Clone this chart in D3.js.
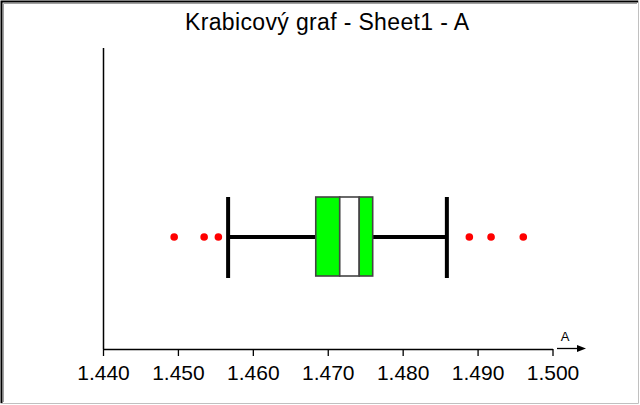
<!DOCTYPE html>
<html>
<head>
<meta charset="utf-8">
<script src="https://cdn.jsdelivr.net/npm/d3@7"></script>
<style>
  html, body { margin: 0; padding: 0; background: #fff; }
  svg { display: block; }
  text { font-family: "Liberation Sans", Arial, sans-serif; }
</style>
</head>
<body>
<svg id="chart" width="640" height="405"></svg>
<script>
// Box plot summary for column A
const title = "Krabicový graf - Sheet1 - A";
const axisLabel = "A";
const tickValues = [1.44, 1.45, 1.46, 1.47, 1.48, 1.49, 1.50];
const whiskers = [1.4567, 1.4859];          // lower / upper adjacent values
const boxEdges = [1.4684, 1.4716, 1.4742, 1.4760]; // Q1, median band low, median band high, Q3
const outliers = [1.4495, 1.4535, 1.4554, 1.4889, 1.4918, 1.4961];

const svg = d3.select("#chart");
const W = 640, H = 405;

// frame
svg.append("rect").attr("x", 0).attr("y", 0).attr("width", W).attr("height", H).attr("fill", "#fff");
svg.append("path").attr("d", `M1.5,${H - 2}V1.5H${W - 2}`).attr("fill", "none").attr("stroke", "#000").attr("stroke-width", 2);
svg.append("path").attr("d", `M3.5,${H - 3}V3.5H${W - 3}`).attr("fill", "none").attr("stroke", "#a0a0a0").attr("stroke-width", 1);
svg.append("path").attr("d", `M0.5,${H - 1.5}H${W - 1.5}V0.5`).attr("fill", "none").attr("stroke", "#c0c0c0").attr("stroke-width", 1);

const x = d3.scaleLinear().domain([1.44, 1.50]).range([103, 552.5]);
const axisY = 349;
const midY = 237;
const boxTop = 197, boxBot = 276;

// title
svg.append("text").attr("x", 327).attr("y", 30).attr("text-anchor", "middle")
  .attr("font-size", 23).attr("fill", "#000").attr("textLength", 284).text(title);

// vertical axis line
svg.append("line").attr("x1", 103.5).attr("x2", 103.5).attr("y1", 48).attr("y2", axisY)
  .attr("stroke", "#000").attr("stroke-width", 1.5);

// horizontal axis
const axis = d3.axisBottom(x).tickValues(tickValues).tickFormat(d3.format(".3f"))
  .tickSize(7).tickSizeOuter(0).tickPadding(4);
const gx = svg.append("g").attr("transform", `translate(0,${axisY})`).call(axis);
gx.select(".domain").attr("stroke", "#000").attr("stroke-width", 1.5);
gx.selectAll(".tick line").attr("stroke", "#000").attr("stroke-width", 1.3);
gx.selectAll(".tick text").attr("font-size", 21).attr("fill", "#000")
  .attr("font-family", "'Liberation Sans', Arial, sans-serif").attr("dy", "0.95em");

// axis arrow and name
svg.append("line").attr("x1", 557).attr("x2", 580).attr("y1", axisY - 0.5).attr("y2", axisY - 0.5)
  .attr("stroke", "#000").attr("stroke-width", 1.3);
svg.append("path").attr("d", `M577,${axisY - 4}L586,${axisY - 0.5}L577,${axisY + 3}Z`).attr("fill", "#000");
svg.append("text").attr("x", 565).attr("y", axisY - 8).attr("text-anchor", "middle")
  .attr("font-size", 13).attr("fill", "#000").text(axisLabel);

// whisker line
svg.append("line").attr("x1", x(whiskers[0])).attr("x2", x(boxEdges[0]))
  .attr("y1", midY).attr("y2", midY).attr("stroke", "#000").attr("stroke-width", 4);
svg.append("line").attr("x1", x(boxEdges[3])).attr("x2", x(whiskers[1]))
  .attr("y1", midY).attr("y2", midY).attr("stroke", "#000").attr("stroke-width", 4);

// whisker caps
svg.selectAll("line.cap").data(whiskers).join("line").attr("class", "cap")
  .attr("x1", d => x(d)).attr("x2", d => x(d))
  .attr("y1", boxTop).attr("y2", boxBot + 2)
  .attr("stroke", "#000").attr("stroke-width", 4);

// box segments: green, white, green
const segs = d3.pairs(boxEdges).map((p, i) => ({ a: p[0], b: p[1], fill: i === 1 ? "#ffffff" : "#00ff00" }));
svg.selectAll("rect.seg").data(segs).join("rect").attr("class", "seg")
  .attr("x", d => x(d.a)).attr("y", boxTop)
  .attr("width", d => x(d.b) - x(d.a)).attr("height", boxBot - boxTop)
  .attr("fill", d => d.fill).attr("stroke", "#444").attr("stroke-width", 1.6);

// outliers
svg.selectAll("circle.out").data(outliers).join("circle").attr("class", "out")
  .attr("cx", d => x(d)).attr("cy", midY).attr("r", 3.8).attr("fill", "#ff0000");
</script>
</body>
</html>
